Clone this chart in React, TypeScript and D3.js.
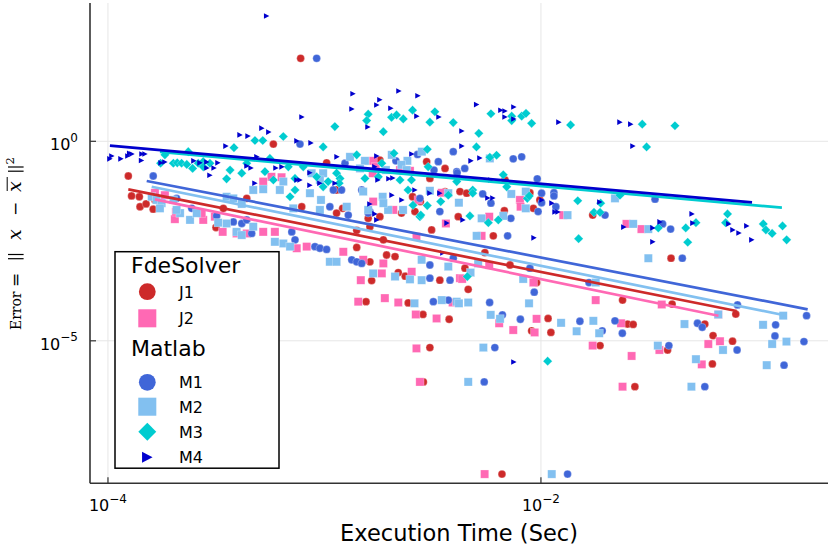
import React from "react";
import * as d3 from "d3";

// Each point: [log10(execution time in s), log10(error)]
const J1: [number, number][] = [
  [-3.110,2.08],[-3.236,-0.07],[-3.906,-0.87],[-3.891,-1.37],[-3.855,-1.39],[-3.852,-1.64],[-3.824,-1.57],[-3.791,-1.70],[-3.783,-1.47],[-3.501,-2.16],[-3.467,-1.68],[-3.359,-1.43],[-3.105,-1.64],[-2.990,-0.54],[-2.944,-1.22],[-2.916,-1.68],[-2.944,-1.80],[-2.851,-2.66],[-2.728,-2.47],[-2.674,-2.89],[-2.744,-0.47],[-2.744,-1.89],[-2.644,-1.80],[-2.593,-1.39],[-2.582,-1.76],[-2.528,-0.51],[-2.505,-2.22],[-2.513,-0.93],[-2.443,-0.68],[-2.382,-1.89],[-2.374,-1.26],[-2.343,-1.30],[-2.166,-0.97],[-2.051,-1.29],[-2.035,-1.68],[-2.005,-1.47],[-2.169,-1.74],[-2.220,-2.37],[-1.761,-1.85],[-1.399,-2.93],[-2.259,-2.79],[-2.351,-3.18],[-2.336,-3.71],[-2.143,-3.10],[-2.467,-3.48],[-2.424,-4.46],[-2.020,-3.54],[-1.967,-4.44],[-1.954,-4.79],[-2.043,-4.75],[-1.727,-5.12],[-1.623,-3.98],[-1.600,-4.58],[-1.574,-4.59],[-1.415,-5.23],[-1.394,-4.08],[-1.243,-4.58],[-1.205,-4.87],[-1.115,-5.01],[-1.208,-5.58],[-1.100,-4.33],[-1.566,-6.15],[-2.790,-3.02],[-2.713,-2.85],[-2.659,-3.29],[-2.627,-3.38],[-2.782,-3.49],[-2.545,-4.34],[-2.808,-4.02],[-2.513,-5.17],[-2.613,-4.05],[-2.543,-6.03],[-2.180,-8.34],[-2.851,-2.23],[-2.790,-2.14],[-2.557,-1.51],[-2.443,-1.26],[-2.798,-1.93],
];
const J2: [number, number][] = [
  [-3.783,-1.29],[-3.737,-1.35],[-3.691,-1.95],[-3.686,-1.77],[-3.560,-1.97],[-3.506,-1.89],[-3.470,-2.27],[-3.406,-2.31],[-3.359,-2.31],[-3.283,-2.27],[-3.229,-2.27],[-3.283,-1.01],[-3.245,-0.89],[-3.198,-0.90],[-3.128,-2.68],[-3.082,-2.64],[-2.913,-2.77],[-2.821,-2.97],[-2.728,-3.06],[-2.735,-3.31],[-2.597,-3.27],[-2.374,-3.43],[-2.832,-3.48],[-2.844,-4.02],[-2.721,-3.93],[-2.659,-4.04],[-2.578,-4.34],[-2.482,-4.44],[-2.575,-5.19],[-2.559,-6.03],[-2.775,-1.51],[-2.682,-1.72],[-2.567,-1.47],[-2.775,-0.49],[-2.763,-0.64],[-2.651,-0.72],[-2.605,-0.74],[-2.439,-2.06],[-2.239,-1.89],[-2.274,-2.37],[-2.458,-1.29],[-2.097,-1.47],[-2.094,-1.64],[-1.897,-1.85],[-1.605,-2.07],[-1.536,-2.20],[-2.035,-3.54],[-2.239,-3.10],[-2.364,-3.45],[-2.408,-4.04],[-2.193,-4.56],[-2.020,-4.45],[-2.128,-4.73],[-2.029,-4.79],[-1.761,-5.12],[-1.747,-3.98],[-1.630,-4.56],[-1.442,-4.09],[-1.227,-5.08],[-1.173,-5.01],[-1.453,-5.23],[-1.257,-5.59],[-1.181,-4.34],[-1.623,-6.15],[-1.581,-5.38],[-2.260,-8.34],[-3.567,-1.80],[-2.575,-2.39],[-2.777,-0.80],
];
const M1: [number, number][] = [
  [-3.036,2.08],[-3.113,-0.07],[-3.791,-0.87],[-2.405,-0.26],[-2.670,-0.49],[-2.570,-0.33],[-2.474,-0.51],[-2.905,-0.55],[-2.494,-0.72],[-2.389,-0.76],[-2.921,-1.22],[-2.828,-1.22],[-2.790,-1.76],[-2.559,-1.43],[-2.467,-1.76],[-3.683,-1.43],[-3.613,-1.68],[-3.498,-1.87],[-3.421,-2.02],[-3.382,-2.06],[-3.359,-1.97],[-3.336,-2.31],[-3.151,-2.27],[-3.136,-2.47],[-3.044,-2.64],[-3.021,-2.68],[-2.990,-2.71],[-2.874,-2.97],[-2.851,-3.02],[-2.828,-3.06],[-2.513,-3.10],[-2.420,-3.48],[-2.497,-4.02],[-2.428,-3.98],[-2.513,-3.43],[-2.975,-1.64],[-2.890,-1.85],[-2.798,-1.80],[-2.352,-0.68],[-2.387,-0.79],[-2.128,-0.44],[-2.089,-0.39],[-2.017,-0.94],[-1.997,-1.30],[-1.940,-1.29],[-1.940,-1.37],[-1.997,-1.54],[-1.931,-1.64],[-1.704,-1.85],[-1.473,-1.45],[-1.438,-2.07],[-1.401,-2.20],[-2.269,-1.32],[-2.231,-1.55],[-2.139,-1.93],[-2.013,-1.76],[-2.154,-2.37],[-1.347,-2.93],[-2.051,-3.18],[-2.031,-3.78],[-2.405,-2.93],[-2.237,-4.04],[-2.178,-4.35],[-2.095,-4.46],[-1.820,-4.51],[-1.717,-4.75],[-1.658,-4.50],[-1.624,-4.81],[-1.778,-3.54],[-2.213,-5.17],[-2.262,-6.03],[-1.277,-4.56],[-1.255,-4.66],[-1.409,-5.12],[-1.094,-5.23],[-1.092,-4.10],[-0.773,-4.37],[-0.916,-4.60],[-0.919,-4.88],[-0.785,-5.02],[-0.877,-5.61],[-1.243,-6.15],[-1.877,-8.34],[-2.959,-1.22],
];
const M2: [number, number][] = [
  [-3.798,-1.39],[-3.775,-1.47],[-3.752,-1.55],[-3.698,-1.47],[-3.667,-1.80],[-3.621,-1.97],[-3.760,-1.68],[-3.683,-1.72],[-3.590,-1.80],[-3.491,-2.04],[-3.452,-2.06],[-3.406,-2.27],[-3.382,-2.35],[-3.329,-2.14],[-3.452,-1.39],[-3.421,-1.43],[-3.382,-1.57],[-3.329,-1.22],[-3.283,-1.20],[-3.206,-1.22],[-3.190,-1.01],[-3.067,-1.30],[-3.006,-0.80],[-3.021,-0.97],[-3.229,-2.52],[-3.190,-2.56],[-3.159,-2.64],[-2.975,-3.02],[-2.944,-3.02],[-2.775,-3.31],[-2.674,-3.39],[-2.605,-3.46],[-2.551,-3.48],[-2.551,-2.97],[-2.428,-3.14],[-2.798,-1.72],[-2.706,-1.72],[-2.637,-1.72],[-2.584,-4.06],[-2.458,-3.98],[-2.389,-4.02],[-3.021,-1.72],[-3.144,-1.68],[-2.897,-1.64],[-2.882,-0.39],[-2.813,-0.49],[-2.689,-0.34],[-2.617,-0.49],[-2.550,-0.26],[-2.836,-0.68],[-2.716,-0.72],[-2.644,-0.59],[-2.620,-0.72],[-2.821,-1.26],[-2.731,-1.39],[-2.728,-1.55],[-2.513,-1.24],[-2.236,-0.43],[-2.379,-1.54],[-2.428,-1.30],[-2.274,-1.93],[-2.174,-1.87],[-2.297,-2.37],[-2.137,-1.32],[-2.070,-1.26],[-2.070,-1.68],[-1.877,-1.85],[-1.658,-1.43],[-1.574,-2.07],[-1.504,-2.20],[-1.504,-2.93],[-2.082,-3.45],[-2.290,-3.06],[-2.325,-3.29],[-2.379,-4.06],[-2.336,-4.04],[-2.055,-4.06],[-2.232,-4.35],[-2.189,-4.45],[-1.907,-4.55],[-1.835,-4.76],[-1.758,-4.50],[-1.731,-4.81],[-1.747,-3.54],[-2.266,-5.17],[-2.336,-6.03],[-1.337,-4.58],[-1.460,-5.12],[-1.159,-5.23],[-1.284,-5.46],[-1.181,-4.34],[-0.881,-4.37],[-0.974,-4.60],[-0.932,-5.08],[-0.866,-5.02],[-0.957,-5.61],[-1.305,-6.15],[-1.950,-8.34],[-3.059,-0.80],[-3.016,-1.47],
];
const M3: [number, number][] = [
  [-3.757,-0.55],[-3.737,-0.34],[-3.698,-0.55],[-3.680,-0.54],[-3.660,-0.55],[-3.636,-0.58],[-3.629,-0.26],[-3.609,-0.68],[-3.583,-0.55],[-3.560,-0.51],[-3.529,-0.55],[-3.560,-0.64],[-3.452,-0.94],[-3.436,-0.72],[-3.418,-0.16],[-3.382,-0.80],[-3.359,-0.55],[-3.321,0.02],[-3.285,0.02],[-3.275,-0.76],[-3.252,-0.43],[-3.236,-0.97],[-3.190,0.12],[-3.167,-0.64],[-3.159,-1.39],[-3.136,-0.93],[-3.136,-1.22],[-3.098,-0.64],[-3.036,-0.89],[-3.006,-0.14],[-3.006,-1.14],[-2.983,-1.01],[-2.952,0.37],[-2.944,-0.80],[-2.928,-0.93],[-2.932,-1.05],[-2.851,-0.34],[-2.813,-0.93],[-2.798,0.68],[-2.805,0.52],[-2.728,0.24],[-2.690,0.60],[-2.667,0.66],[-2.679,-0.30],[-2.636,0.56],[-2.593,0.78],[-2.513,0.48],[-2.490,0.74],[-2.405,0.47],[-2.525,-0.20],[-2.521,-0.64],[-2.591,-1.60],[-2.614,-1.22],[-2.598,-0.97],[-2.651,-0.97],[-2.559,-1.89],[-2.463,-1.51],[-2.428,-1.35],[-2.389,-1.01],[-2.751,-0.89],[-2.735,-0.55],[-2.231,0.69],[-2.135,0.63],[-2.135,0.52],[-2.089,0.63],[-2.069,0.70],[-2.043,0.45],[-2.287,0.20],[-2.298,-0.14],[-2.236,-0.40],[-2.205,-0.35],[-2.174,-0.84],[-2.315,-1.22],[-2.315,-1.30],[-2.328,-1.87],[-2.243,-2.04],[-2.197,-1.97],[-2.158,-1.14],[-2.063,-1.43],[-2.054,-1.37],[-1.863,0.41],[-1.830,-1.49],[-1.826,-2.44],[-1.755,-1.78],[-1.727,-1.78],[-1.724,-1.55],[-1.635,-1.35],[-1.532,0.43],[-1.512,-0.14],[-1.381,0.39],[-1.458,-2.17],[-1.331,-2.17],[-1.322,-2.53],[-1.284,-2.04],[-1.138,-1.82],[-1.147,-2.04],[-0.973,-2.07],[-0.961,-2.22],[-0.932,-2.31],[-0.884,-2.12],[-0.865,-2.47],[-2.340,-3.39],[-1.969,-5.51],[-2.555,-1.85],[-2.525,-1.61],
];
const M4: [number, number][] = [
  [-3.267,3.14],[-3.991,-0.44],[-3.940,-0.44],[-3.908,-0.37],[-3.889,-0.32],[-3.843,-0.32],[-3.829,-0.32],[-3.982,-0.37],[-3.845,-0.48],[-3.900,-0.30],[-3.455,-0.12],[-3.390,0.16],[-3.353,0.13],[-3.289,0.33],[-3.257,0.23],[-3.104,0.61],[-3.127,0.01],[-3.062,-0.04],[-2.868,1.19],[-2.873,0.81],[-2.758,0.91],[-2.744,1.04],[-2.656,1.26],[-2.568,1.14],[-2.693,0.83],[-2.573,0.63],[-2.471,0.61],[-2.799,0.36],[-2.942,-0.39],[-2.758,-0.37],[-2.596,-0.32],[-2.582,-1.22],[-3.603,-0.49],[-3.575,-0.54],[-3.543,-0.52],[-3.492,-0.54],[-3.543,-0.67],[-3.510,-0.67],[-3.529,-0.85],[-3.358,-0.62],[-3.339,-0.67],[-3.321,-1.05],[-3.312,-0.39],[-3.224,-0.67],[-3.196,-0.64],[-3.127,-0.97],[-3.113,-0.97],[-3.067,-0.79],[-3.067,-1.10],[-3.021,-1.05],[-3.755,-0.54],[-3.737,-0.52],[-2.790,-1.57],[-2.767,-0.64],[-2.753,-0.97],[-2.702,-0.94],[-2.684,-0.92],[-2.513,-1.30],[-2.467,-1.30],[-2.434,-2.05],[-2.688,-1.35],[-2.642,-1.47],[-2.767,-1.82],[-2.758,-1.97],[-2.453,-2.80],[-2.297,0.92],[-2.185,0.78],[-2.166,0.76],[-2.125,0.86],[-2.166,0.61],[-2.125,0.56],[-2.365,0.26],[-2.365,-0.12],[-2.323,-0.49],[-2.282,-0.42],[-2.360,-1.97],[-2.245,-1.42],[-2.222,-1.42],[-2.231,-0.97],[-2.032,-2.42],[-1.995,-1.47],[-1.949,-1.55],[-1.935,-1.77],[-1.921,-1.77],[-1.917,0.48],[-1.728,-1.52],[-1.635,0.48],[-1.585,0.43],[-1.575,-0.12],[-1.483,-2.17],[-1.483,-2.52],[-1.450,-2.02],[-1.617,-2.15],[-1.302,-1.82],[-1.298,-2.05],[-1.132,-2.07],[-1.113,-2.22],[-1.085,-2.30],[-1.049,-2.12],[-1.026,-2.47],[-2.125,-5.53],[-2.951,-1.05],
];

// Fitted trend lines (log10 time, log10 error) end points
const FIT_J1: [number, number][] = [[-3.906, -1.203], [-1.096, -4.253]];
const FIT_J2: [number, number][] = [[-3.783, -1.456], [-1.180, -4.371]];
const FIT_M1: [number, number][] = [[-3.821, -0.995], [-0.768, -4.211]];
const FIT_M2: [number, number][] = [[-3.798, -1.138], [-0.881, -4.353]];
const FIT_M3: [number, number][] = [[-3.760, -0.268], [-0.887, -1.664]];
const FIT_M4: [number, number][] = [[-3.991, -0.110], [-1.025, -1.529]];

const SERIES_NAMES = ["J1", "J2", "M1", "M2", "M3", "M4"];
const SERIES_COLORS = ["#cd2a2a", "#ff69b4", "#4066d8", "#82c0f0", "#00ccd0", "#0000cd"];
const SERIES_SHAPES = ["circle", "square", "circle", "square", "diamond", "rtriangle"];
const GROUP_TITLES = ["FdeSolver", "Matlab"];

const X_TICKS = [1e-4, 1e-2];
const X_TICK_EXP = ["\u22124", "\u22122"];
const Y_TICKS = [1e0, 1e-5];
const Y_TICK_EXP = ["0", "\u22125"];

const X_LABEL = "Execution Time (Sec)";

const W = 830;
const H = 546;
const PL = 90, PR = 828, PT = 3, PB = 483.3;

const SANS = "'DejaVu Sans', sans-serif";
const SERIF = "'DejaVu Serif', serif";

function marker(shape: string, cx: number, cy: number, k: number, color: string, key: string | number, stroke = true) {
  const sp = stroke ? { stroke: "#ffffff", strokeOpacity: 0.45, strokeWidth: 0.6 } : {};
  if (shape === "circle") {
    return <circle key={key} cx={cx} cy={cy} r={3.9 * k} fill={color} {...sp} />;
  }
  if (shape === "square") {
    const s = 4.1 * k;
    return <rect key={key} x={cx - s} y={cy - s} width={2 * s} height={2 * s} fill={color} {...sp} />;
  }
  if (shape === "diamond") {
    const s = 4.6 * k;
    return <path key={key} d={`M${cx},${cy - s}L${cx + s},${cy}L${cx},${cy + s}L${cx - s},${cy}Z`} fill={color} {...sp} />;
  }
  const a = 2.7 * k, b = 2.8 * k;
  return <path key={key} d={`M${cx - a},${cy - b}L${cx + a},${cy}L${cx - a},${cy + b}Z`} fill={color} />;
}

export default function App() {
  const x = d3.scaleLog().domain([10 ** -4.083, 10 ** -0.674]).range([PL, PR]);
  const y = d3.scaleLog().domain([10 ** -8.571, 10 ** 3.466]).range([PB, PT]);

  const seriesData = [J1, J2, M1, M2, M3, M4];
  const fits = [FIT_J1, FIT_J2, FIT_M1, FIT_M2, FIT_M3, FIT_M4];
  const line = d3
    .line<[number, number]>()
    .x((d) => x(10 ** d[0]))
    .y((d) => y(10 ** d[1]));

  // legend layout
  const LX = 115, LY = 251.7, LW = 164, LH = 216.5;
  const legendRows = [
    { type: "title", text: GROUP_TITLES[0], y: 273.3 },
    { type: "item", idx: 0, y: 291.7 },
    { type: "item", idx: 1, y: 318.3 },
    { type: "title", text: GROUP_TITLES[1], y: 356 },
    { type: "item", idx: 2, y: 382.3 },
    { type: "item", idx: 3, y: 406.7 },
    { type: "item", idx: 4, y: 431.7 },
    { type: "item", idx: 5, y: 457.3 },
  ];
  const legendScale = [2.15, 2.2, 2.15, 2.2, 1.95, 1.95];

  // double bar "‖" drawn in rotated label frame
  const dbar = (u: number, key: string) => (
    <g key={key} stroke="#000" strokeWidth={1.2}>
      <line x1={u} x2={u} y1={-13} y2={2.6} />
      <line x1={u + 4.2} x2={u + 4.2} y1={-13} y2={2.6} />
    </g>
  );

  return (
    <div style={{ position: "fixed", left: 0, top: 0, width: W, height: H, background: "#fff" }}>
      <svg width={W} height={H} viewBox={`0 0 ${W} ${H}`} style={{ display: "block" }}>
        <rect x={0} y={0} width={W} height={H} fill="#fff" />
        {/* grid */}
        {X_TICKS.map((t, i) => (
          <line key={"gx" + i} x1={x(t)} x2={x(t)} y1={PT} y2={PB} stroke="#e6e6e6" strokeWidth={1} />
        ))}
        {Y_TICKS.map((t, i) => (
          <line key={"gy" + i} x1={PL} x2={PR} y1={y(t)} y2={y(t)} stroke="#e6e6e6" strokeWidth={1} />
        ))}

        {/* scatter */}
        {seriesData.map((data, si) => (
          <g key={"s" + si}>
            {data.map((d, i) =>
              marker(SERIES_SHAPES[si], x(10 ** d[0]), y(10 ** d[1]), 1, SERIES_COLORS[si], i)
            )}
          </g>
        ))}

        {/* fit lines */}
        {fits.map((f, si) => (
          <path key={"f" + si} d={line(f) || ""} fill="none" stroke={SERIES_COLORS[si]} strokeWidth={2.7} />
        ))}

        {/* axes */}
        <line x1={PL} x2={PL} y1={PT} y2={PB} stroke="#333" strokeWidth={1.6} />
        <line x1={PL} x2={PR} y1={PB} y2={PB} stroke="#333" strokeWidth={1.6} />
        {X_TICKS.map((t, i) => (
          <g key={"xt" + i}>
            <line x1={x(t)} x2={x(t)} y1={PB} y2={PB - 6} stroke="#333" strokeWidth={1.2} />
            <text x={x(t)} y={511} textAnchor="middle" fontFamily={SANS} fontSize={16} fill="#000">
              10
              <tspan dy={-8} fontSize={12}>{X_TICK_EXP[i]}</tspan>
            </text>
          </g>
        ))}
        {Y_TICKS.map((t, i) => (
          <g key={"yt" + i}>
            <line x1={PL} x2={PL + 6} y1={y(t)} y2={y(t)} stroke="#333" strokeWidth={1.2} />
            <text x={78} y={y(t) + 8.8} textAnchor="end" fontFamily={SANS} fontSize={16} fill="#000">
              10
              <tspan dy={-8.5} fontSize={12}>{Y_TICK_EXP[i]}</tspan>
            </text>
          </g>
        ))}

        {/* x label */}
        <text x={(PL + PR) / 2} y={541} textAnchor="middle" fontFamily={SANS} fontSize={22.5} fill="#000">
          {X_LABEL}
        </text>

        {/* y label: Error = ||x - xbar||^2 */}
        <g transform="translate(21,330) rotate(-90)" fontFamily={SERIF} fill="#000">
          <text x={0} y={0} fontSize={15} textLength={38.5} lengthAdjust="spacingAndGlyphs">Error</text>
          <text x={43} y={0} fontSize={17}>=</text>
          {dbar(71.3, "b1")}
          <text x={90} y={0} fontSize={19} fontStyle="italic">x</text>
          <text x={114} y={0} fontSize={17}>{"\u2212"}</text>
          <text x={138} y={0} fontSize={19} fontStyle="italic">x</text>
          <line x1={139} x2={153} y1={-13.8} y2={-13.8} stroke="#000" strokeWidth={1} />
          {dbar(158.8, "b2")}
          <text x={165.5} y={-7.5} fontSize={11.5}>2</text>
        </g>

        {/* legend */}
        <rect x={LX} y={LY} width={LW} height={LH} fill="#fff" stroke="#000" strokeWidth={1.5} />
        {legendRows.map((r, i) => {
          if (r.type === "title") {
            return (
              <text key={"lt" + i} x={131} y={r.y} fontFamily={SANS} fontSize={22} fill="#000">
                {r.text}
              </text>
            );
          }
          const idx = r.idx as number;
          return (
            <g key={"li" + i}>
              {marker(SERIES_SHAPES[idx], 147.3, r.y, legendScale[idx], SERIES_COLORS[idx], "m", false)}
              <text x={179} y={r.y + 5.8} fontFamily={SANS} fontSize={16} fill="#000">
                {SERIES_NAMES[idx]}
              </text>
            </g>
          );
        })}
      </svg>
    </div>
  );
}
